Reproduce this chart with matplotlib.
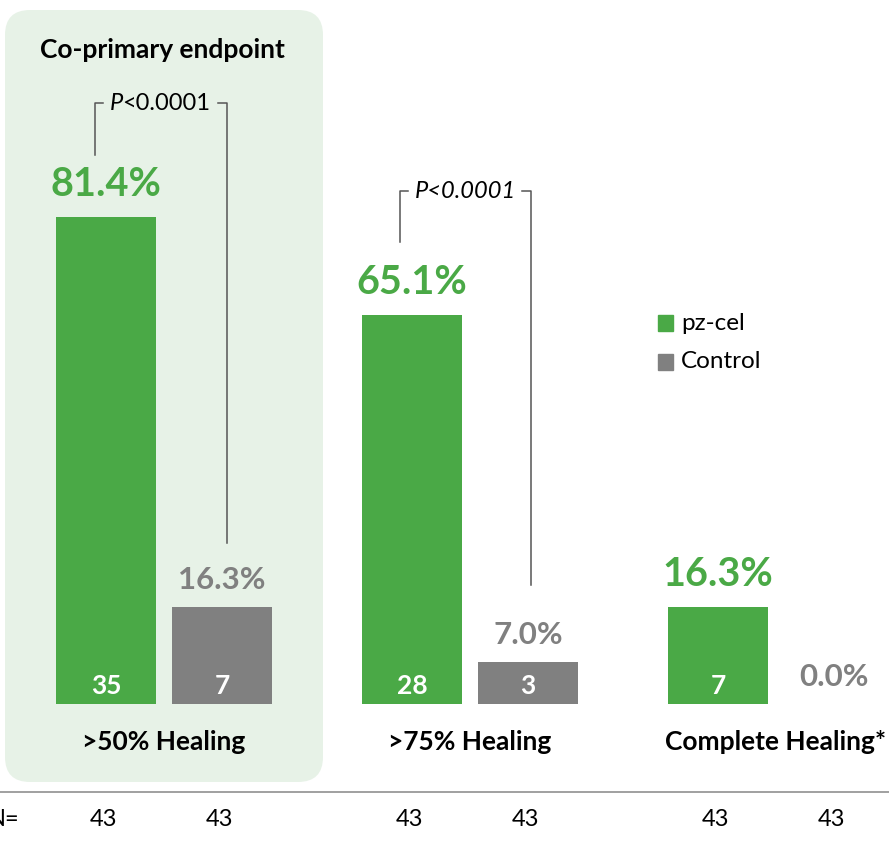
import matplotlib
matplotlib.use("Agg")
import matplotlib.pyplot as plt
from matplotlib.patches import FancyBboxPatch

plt.rcParams["font.family"] = ["Lato", "DejaVu Sans"]

# data
groups = [">50% Healing", ">75% Healing", "Complete Healing*"]
pzcel_pct = [81.4, 65.1, 16.3]
control_pct = [16.3, 7.0, 0.0]
pzcel_n = [35, 28, 7]
control_n = [7, 3, 0]
totals_pz = [43, 43, 43]
totals_ctl = [43, 43, 43]

GREEN = "#4aa946"
GRAY = "#808080"
BG = "#e7f2e7"

W, H = 889, 842
fig = plt.figure(figsize=(W / 100, H / 100), dpi=100)

# pixel-coordinate layer for background box and separator line
bg = fig.add_axes([0, 0, 1, 1])
bg.set_xlim(0, W)
bg.set_ylim(H, 0)
bg.axis("off")
bg.add_patch(FancyBboxPatch((5 + 25, 10 + 25), 318 - 50, 772 - 50,
                            boxstyle="round,pad=25", fc=BG, ec="none"))
bg.plot([0, W], [792, 792], color="#999999", lw=1.3)

# main axes: x in pixels, y in percent (baseline at pixel 704, 5.98 px per %)
base_px, ppp = 704, 5.98
ax = fig.add_axes([0, 0, 1, 1])
ax.patch.set_alpha(0)
ax.set_xlim(0, W)
ax.set_ylim((base_px - H) / ppp, base_px / ppp)
ax.axis("off")


def yp(py):
    return (base_px - py) / ppp


centers = [164, 470, 776]
off = 58
bw = 100
NFONT = ["Liberation Sans Narrow", "Lato"]
for i, c in enumerate(centers):
    ax.bar(c - off, pzcel_pct[i], width=bw, color=GREEN)
    ax.bar(c + off, control_pct[i], width=bw, color=GRAY)
    # percentage labels (offset above bar top given in pixels -> percent)
    ax.text(c - off, pzcel_pct[i] + 14 / ppp, f"{pzcel_pct[i]:.1f}%", color=GREEN,
            fontsize=28.5, fontweight="bold", ha="center", va="bottom")
    ax.text(c + off, control_pct[i] + 13 / ppp, f"{control_pct[i]:.1f}%", color=GRAY,
            fontsize=22.5, fontweight="bold", ha="center", va="bottom")
    # counts inside bars
    ax.text(c - off, yp(686), str(pzcel_n[i]), color="white", fontsize=19,
            fontweight="bold", ha="center", va="center")
    if control_n[i] > 0:
        ax.text(c + off, yp(686), str(control_n[i]), color="white", fontsize=19,
                fontweight="bold", ha="center", va="center")
    # group labels
    ax.text(c, yp(742), groups[i], fontsize=19, fontweight="bold",
            ha="center", va="center")
    # N row
    ax.text(c - off - 3, yp(820), str(totals_pz[i]), fontsize=17, ha="center",
            va="center", family=NFONT)
    ax.text(c + off - 3, yp(820), str(totals_ctl[i]), fontsize=17, ha="center",
            va="center", family=NFONT)

ax.text(19, yp(820), "N=", fontsize=17, ha="right", va="center", family=NFONT)

# significance brackets
brackets = [(95, 227, 103, 155, 543, 160, True), (400, 531, 191, 242, 585, 465, False)]
for (xl, xr, ytop, yl, yr, xt, partial) in brackets:
    ax.plot([xl, xl, xl + 8], [yp(yl), yp(ytop), yp(ytop)], color="#555555", lw=1.1)
    ax.plot([xr - 9, xr, xr], [yp(ytop), yp(ytop), yp(yr)], color="#555555", lw=1.1)
    if partial:
        ax.text(110, yp(ytop), "P", fontsize=17, style="italic",
                ha="left", va="center")
        ax.text(122, yp(ytop), "<0.0001", fontsize=17, ha="left", va="center")
    else:
        ax.text(xt, yp(ytop), "P<0.0001", fontsize=17, style="italic",
                ha="center", va="center")

ax.text(162, yp(50), "Co-primary endpoint", fontsize=19, fontweight="bold",
        ha="center", va="center")

# legend
for lbl, col, py in [("pz-cel", GREEN, 323), ("Control", GRAY, 362)]:
    bg.add_patch(plt.Rectangle((658, py - 8), 15, 16, color=col))
    bg.text(681, py, lbl, fontsize=17.5, va="center", ha="left")

fig.savefig("out.png", dpi=100)
